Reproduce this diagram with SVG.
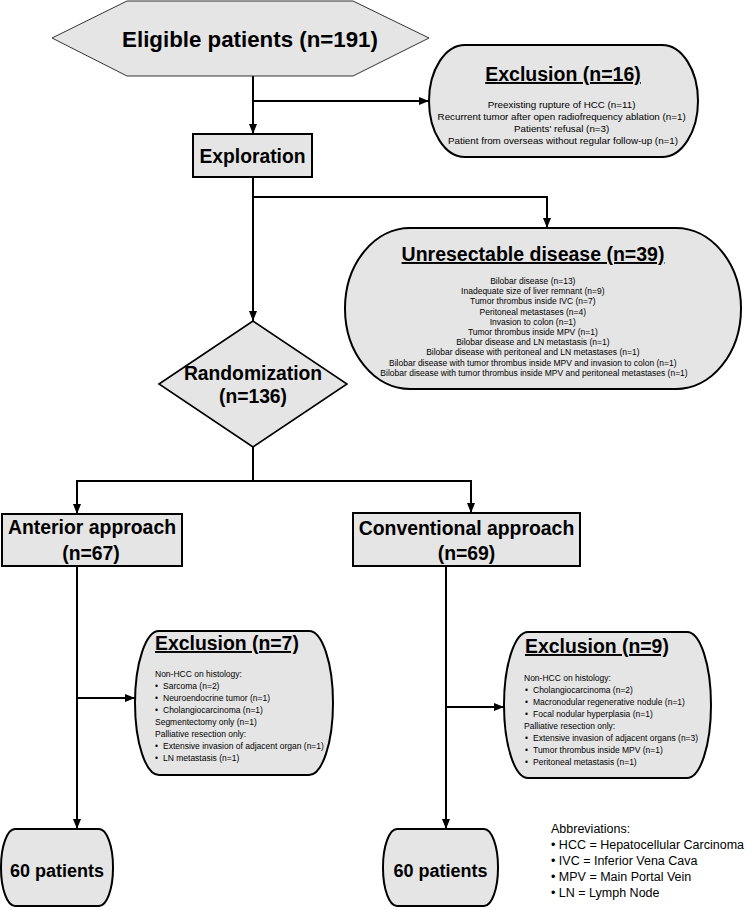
<svg xmlns="http://www.w3.org/2000/svg" width="746" height="910" viewBox="0 0 746 910">
<defs>
<marker id="arr" markerUnits="userSpaceOnUse" markerWidth="10" markerHeight="10" viewBox="0 0 10 10" refX="10" refY="5" orient="auto"><path d="M0,1 L10,5 L0,9 Z" fill="#000"/></marker>
<style>
.box{fill:#e5e5e5;stroke:#000;stroke-width:2}
.thin{fill:#e5e5e5;stroke:#333;stroke-width:1}
.dia{fill:#e5e5e5;stroke:#000;stroke-width:1.6}
.b{font-family:"Liberation Sans",Arial,sans-serif;font-weight:bold;fill:#000}
.r{font-family:"Liberation Sans",Arial,sans-serif;fill:#000}
.c{text-anchor:middle}
.u{text-decoration:underline}
.con{fill:none;stroke:#000;stroke-width:2}
</style>
</defs>
<rect width="746" height="910" fill="#fff"/>
<g id="connectors">
<path class="con" d="M253,76 V134" marker-end="url(#arr)"/>
<path class="con" d="M253,101 H429" marker-end="url(#arr)"/>
<path class="con" d="M253,177 V321" marker-end="url(#arr)"/>
<path class="con" d="M253,197 H547 V228" marker-end="url(#arr)"/>
<path class="con" d="M253,447 V481"/>
<path class="con" d="M77,481 H471"/>
<path class="con" d="M77,480 V514" marker-end="url(#arr)"/>
<path class="con" d="M471,480 V513" marker-end="url(#arr)"/>
<path class="con" d="M77,566 V829" marker-end="url(#arr)"/>
<path class="con" d="M77,698 H135" marker-end="url(#arr)"/>
<path class="con" d="M446,566 V829" marker-end="url(#arr)"/>
<path class="con" d="M446,707 H504" marker-end="url(#arr)"/>
</g>
<g id="eligible">
<polygon class="thin" points="52,38 127,1 353,1 429,38 353,76 127,76"/>
<text class="b c" x="250" y="47" font-size="22.3">Eligible patients (n=191)</text>
</g>
<g id="exclusion16">
<rect class="box" x="429" y="45" width="269" height="112" rx="36" ry="56"/>
<text class="b c u" x="563" y="81" font-size="19.5">Exclusion (n=16)</text>
<text class="r c" font-size="9.8">
<tspan x="563" y="107.5">Preexisting rupture of HCC (n=11)</tspan>
<tspan x="563" y="119.5">Recurrent tumor after open radiofrequency ablation (n=1)</tspan>
<tspan x="563" y="131.5">Patients' refusal (n=3)</tspan>
<tspan x="563" y="143.5">Patient from overseas without regular follow-up (n=1)</tspan>
</text>
</g>
<g id="exploration">
<rect class="box" x="193" y="134" width="119" height="43"/>
<text class="b c" x="252.5" y="163" font-size="19.3">Exploration</text>
</g>
<g id="unresectable">
<rect class="box" x="345" y="228" width="396" height="161" rx="65" ry="80.5"/>
<text class="b c u" x="533" y="261" font-size="19.5">Unresectable disease (n=39)</text>
<text class="r c" font-size="8.5">
<tspan x="534" y="284">Bilobar disease (n=13)</tspan>
<tspan x="534" y="294.2">Inadequate size of liver remnant (n=9)</tspan>
<tspan x="534" y="304.4">Tumor thrombus inside IVC (n=7)</tspan>
<tspan x="534" y="314.6">Peritoneal metastases (n=4)</tspan>
<tspan x="534" y="324.8">Invasion to colon (n=1)</tspan>
<tspan x="534" y="335">Tumor thrombus inside MPV (n=1)</tspan>
<tspan x="534" y="345.2">Bilobar disease and LN metastasis  (n=1)</tspan>
<tspan x="534" y="355.4">Bilobar disease with peritoneal and LN metastases  (n=1)</tspan>
<tspan x="534" y="365.6">Bilobar disease with tumor thrombus inside MPV and invasion to colon  (n=1)</tspan>
<tspan x="534" y="375.8">Bilobar disease with tumor thrombus inside MPV and peritoneal metastases  (n=1)</tspan>
</text>
</g>
<g id="randomization">
<polygon class="dia" points="159,384 253,321 347,384 253,447"/>
<text class="b c" x="253" y="380" font-size="19.3">Randomization</text>
<text class="b c" x="253" y="403" font-size="19.3">(n=136)</text>
</g>
<g id="anterior">
<rect class="box" x="2" y="514" width="180" height="52"/>
<text class="b c" x="92" y="534" font-size="19.4">Anterior approach</text>
<text class="b c" x="91" y="560" font-size="19.4">(n=67)</text>
</g>
<g id="conventional">
<rect class="box" x="353" y="513" width="227" height="53"/>
<text class="b c" x="466.5" y="535" font-size="19.4">Conventional approach</text>
<text class="b c" x="466.5" y="560" font-size="19.4">(n=69)</text>
</g>
<g id="exclusion7">
<rect class="box" x="135" y="631" width="198" height="144" rx="24" ry="72"/>
<text class="b u" x="155" y="650" font-size="19.4">Exclusion (n=7)</text>
<text class="r" font-size="8.5">
<tspan x="155" y="677">Non-HCC on histology:</tspan>
<tspan x="155" y="689">•</tspan><tspan x="163" y="689">Sarcoma (n=2)</tspan>
<tspan x="155" y="701">•</tspan><tspan x="163" y="701">Neuroendocrine tumor  (n=1)</tspan>
<tspan x="155" y="713">•</tspan><tspan x="163" y="713">Cholangiocarcinoma  (n=1)</tspan>
<tspan x="155" y="725">Segmentectomy only (n=1)</tspan>
<tspan x="155" y="737">Palliative resection only:</tspan>
<tspan x="155" y="749">•</tspan><tspan x="163" y="749">Extensive invasion of adjacent organ (n=1)</tspan>
<tspan x="155" y="761">•</tspan><tspan x="163" y="761">LN metastasis (n=1)</tspan>
</text>
</g>
<g id="exclusion9">
<rect class="box" x="504" y="632" width="207" height="146" rx="24" ry="73"/>
<text class="b u" x="525" y="653" font-size="19.4">Exclusion (n=9)</text>
<text class="r" font-size="8.5">
<tspan x="524" y="681">Non-HCC on histology:</tspan>
<tspan x="525" y="693">•</tspan><tspan x="533" y="693">Cholangiocarcinoma (n=2)</tspan>
<tspan x="525" y="705">•</tspan><tspan x="533" y="705">Macronodular regenerative nodule (n=1)</tspan>
<tspan x="525" y="717">•</tspan><tspan x="533" y="717">Focal nodular hyperplasia (n=1)</tspan>
<tspan x="524" y="729">Palliative resection only:</tspan>
<tspan x="525" y="741">•</tspan><tspan x="533" y="741">Extensive invasion of adjacent organs (n=3)</tspan>
<tspan x="525" y="753">•</tspan><tspan x="533" y="753">Tumor thrombus inside MPV (n=1)</tspan>
<tspan x="525" y="765">•</tspan><tspan x="533" y="765">Peritoneal metastasis (n=1)</tspan>
</text>
</g>
<g id="patients-anterior">
<rect class="box" x="1" y="829" width="112" height="77" rx="14" ry="38"/>
<text class="b c" x="57" y="877" font-size="18">60 patients</text>
</g>
<g id="patients-conventional">
<rect class="box" x="383" y="829" width="115" height="77" rx="14" ry="38"/>
<text class="b c" x="440.5" y="877" font-size="18">60 patients</text>
</g>
<g id="abbreviations">
<text class="r" font-size="12.5">
<tspan x="551" y="833">Abbreviations:</tspan>
<tspan x="551" y="849">• HCC = Hepatocellular Carcinoma</tspan>
<tspan x="551" y="865">• IVC = Inferior Vena Cava</tspan>
<tspan x="551" y="881">• MPV = Main Portal Vein</tspan>
<tspan x="551" y="897">• LN = Lymph Node</tspan>
</text>
</g>
</svg>
